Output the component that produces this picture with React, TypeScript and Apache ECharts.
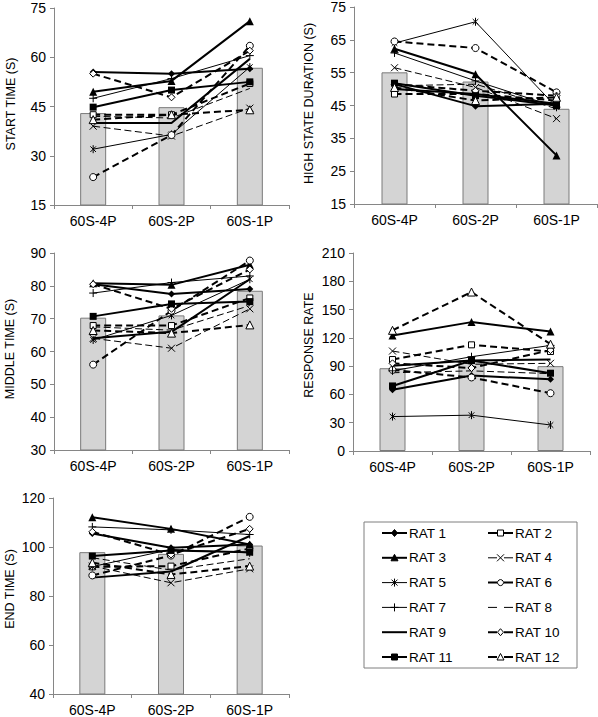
import React, { useEffect, useRef } from 'react';
import * as echarts from 'echarts';

const categories = ['60S-4P', '60S-2P', '60S-1P'];
const ratNames = ['RAT 1', 'RAT 2', 'RAT 3', 'RAT 4', 'RAT 5', 'RAT 6', 'RAT 7', 'RAT 8', 'RAT 9', 'RAT 10', 'RAT 11', 'RAT 12'];

// START TIME (S)
const startTimeMean = [43.0, 44.8, 56.8];
const startTimeRats = [
  [55.5, 55.0, 56.5],
  [42.5, 42.5, 52.0],
  [49.5, 52.8, 71.0],
  [39.0, 36.0, 44.5],
  [32.0, 36.5, 57.0],
  [23.5, 36.3, 63.5],
  [47.5, 53.5, 60.5],
  [42.0, 41.5, 50.5],
  [40.0, 40.0, 59.5],
  [55.0, 47.8, 62.0],
  [44.8, 50.0, 52.5],
  [41.0, 42.5, 44.0],
];

// HIGH STATE DURATION (S)
const highStateMean = [55.1, 52.3, 44.0];
const highStateRats = [
  [51.5, 44.8, 45.5],
  [48.5, 48.5, 46.5],
  [62.3, 54.5, 29.8],
  [56.5, 50.5, 41.0],
  [64.0, 70.5, 44.5],
  [64.5, 62.5, 49.0],
  [61.0, 52.5, 44.5],
  [51.0, 51.5, 44.0],
  [50.0, 48.5, 45.5],
  [51.5, 49.5, 48.0],
  [51.8, 48.0, 45.0],
  [50.5, 46.5, 47.5],
];

// MIDDLE TIME (S)
const middleTimeMean = [70.3, 71.0, 78.5];
const middleTimeRats = [
  [80.5, 77.5, 79.0],
  [67.9, 67.9, 76.3],
  [80.8, 80.3, 86.4],
  [64.0, 61.0, 73.0],
  [63.5, 71.0, 82.0],
  [56.0, 72.4, 87.7],
  [77.8, 81.0, 83.0],
  [67.5, 66.5, 74.0],
  [64.0, 66.0, 82.0],
  [80.5, 73.0, 85.0],
  [70.7, 74.5, 75.2],
  [66.4, 65.6, 68.1],
];

// RESPONSE RATE
const responseRateMean = [87.8, 96.0, 90.0];
const responseRateRats = [
  [65.0, 80.0, 76.0],
  [97.0, 112.6, 105.5],
  [122.5, 136.7, 126.8],
  [106.0, 92.0, 93.0],
  [36.5, 38.0, 27.6],
  [86.0, 78.0, 61.3],
  [85.0, 100.0, 112.0],
  [83.0, 85.0, 82.0],
  [90.5, 96.0, 97.0],
  [93.0, 88.0, 107.0],
  [69.0, 96.0, 82.5],
  [128.0, 168.6, 113.3],
];

// END TIME (S)
const endTimeMean = [97.9, 97.2, 100.6];
const endTimeRats = [
  [105.5, 99.7, 101.0],
  [91.9, 92.2, 99.4],
  [112.1, 107.4, 101.0],
  [92.2, 85.4, 91.1],
  [92.0, 99.0, 97.6],
  [88.4, 96.5, 112.3],
  [108.2, 107.0, 105.1],
  [95.6, 90.6, 95.2],
  [87.5, 90.0, 104.5],
  [106.2, 96.9, 107.4],
  [96.3, 98.6, 97.9],
  [93.6, 88.8, 92.2],
];

const panelTitles = ['START TIME (S)', 'HIGH STATE DURATION (S)', 'MIDDLE TIME (S)', 'RESPONSE RATE', 'END TIME (S)'];
const axisMin = [15, 15, 30, 0, 40];
const axisMax = [75, 75, 90, 210, 120];
const axisStep = [15, 10, 10, 30, 20];

const FONT = 'Liberation Sans, Arial, sans-serif';

const grids = [
  { left: 54, top: 8, width: 235, height: 197 },
  { left: 354, top: 6, width: 243, height: 198 },
  { left: 54, top: 253, width: 235, height: 197 },
  { left: 353, top: 253, width: 237, height: 198 },
  { left: 53, top: 498, width: 236, height: 197 },
];
// centres of the rotated axis titles
const titlePos = [
  [11, 104],
  [309, 103.5],
  [10, 349],
  [309, 345],
  [10, 589],
];

const X_SYM = 'path://M0,0L10,10M10,0L0,10';
const PLUS_SYM = 'path://M5,0L5,10M0,5L10,5';
const STAR_SYM = 'path://M1.5,1.5L8.5,8.5M8.5,1.5L1.5,8.5M5,0L5,10';

const DASH_THICK = [7, 4];
const DASH_THIN = [7, 3.5];

const ratStyles: any[] = [
  { w: 2, dash: 'solid', sym: 'diamond', size: 7, open: false, mk: 'diamond' },
  { w: 2, dash: DASH_THICK, sym: 'rect', size: 6, open: true, mk: 'rect' },
  { w: 2, dash: 'solid', sym: 'triangle', size: 8, open: false, mk: 'triangle' },
  { w: 1, dash: DASH_THIN, sym: X_SYM, size: 7, stroke: true, mk: 'x' },
  { w: 1, dash: 'solid', sym: STAR_SYM, size: 8, stroke: true, mk: 'star' },
  { w: 2, dash: DASH_THICK, sym: 'circle', size: 7, open: true, mk: 'circle' },
  { w: 1, dash: 'solid', sym: PLUS_SYM, size: 8, stroke: true, mk: 'plus' },
  { w: 1, dash: DASH_THIN, sym: 'none', size: 0, mk: 'none' },
  { w: 2, dash: 'solid', sym: 'none', size: 0, mk: 'none' },
  { w: 2, dash: DASH_THICK, sym: 'diamond', size: 7, open: true, mk: 'diamond' },
  { w: 2, dash: 'solid', sym: 'rect', size: 7, open: false, mk: 'rect' },
  { w: 2, dash: DASH_THICK, sym: 'triangle', size: 8, open: true, mk: 'triangle' },
];

const panelMeans = [startTimeMean, highStateMean, middleTimeMean, responseRateMean, endTimeMean];
const panelRats = [startTimeRats, highStateRats, middleTimeRats, responseRateRats, endTimeRats];

// legend box layout
const LEG_BOX = { x: 364, y: 522, width: 213, height: 146 };
const LEG_COL_X = [382, 488];
const LEG_ROW_Y0 = 533;
const LEG_ROW_STEP = 24.8;
const LEG_LINE_LEN = 25;

function legendMarker(mk: string, open: boolean, cx: number, cy: number): any[] {
  const fill = open ? '#fff' : '#000';
  const st = { fill, stroke: '#000', lineWidth: 1 };
  const ln = (x1: number, y1: number, x2: number, y2: number) => ({
    type: 'line',
    shape: { x1, y1, x2, y2 },
    style: { stroke: '#000', lineWidth: 1 },
    z: 12,
  });
  switch (mk) {
    case 'diamond':
      return [{ type: 'polygon', shape: { points: [[cx, cy - 3.5], [cx + 3, cy], [cx, cy + 3.5], [cx - 3, cy]] }, style: st, z: 12 }];
    case 'rect':
      return [{ type: 'rect', shape: { x: cx - 3, y: cy - 3, width: 6, height: 6 }, style: st, z: 12 }];
    case 'triangle':
      return [{ type: 'polygon', shape: { points: [[cx, cy - 3.5], [cx + 3.5, cy + 3], [cx - 3.5, cy + 3]] }, style: st, z: 12 }];
    case 'circle':
      return [{ type: 'circle', shape: { cx, cy, r: 3 }, style: st, z: 12 }];
    case 'x':
      return [ln(cx - 3.5, cy - 3.5, cx + 3.5, cy + 3.5), ln(cx + 3.5, cy - 3.5, cx - 3.5, cy + 3.5)];
    case 'plus':
      return [ln(cx - 4, cy, cx + 4, cy), ln(cx, cy - 4, cx, cy + 4)];
    case 'star':
      return [
        ln(cx - 3, cy - 3, cx + 3, cy + 3),
        ln(cx + 3, cy - 3, cx - 3, cy + 3),
        ln(cx, cy - 4, cx, cy + 4),
      ];
    default:
      return [];
  }
}

function buildLegendGraphics(): any[] {
  const out: any[] = [
    {
      type: 'rect',
      shape: { ...LEG_BOX },
      style: { fill: '#fff', stroke: '#7f7f7f', lineWidth: 1 },
      silent: true,
      z: 10,
    },
  ];
  ratNames.forEach((name, k) => {
    const st = ratStyles[k];
    const x0 = LEG_COL_X[k % 2];
    const y = LEG_ROW_Y0 + Math.floor(k / 2) * LEG_ROW_STEP;
    const dashed = st.dash !== 'solid';
    out.push({
      type: 'line',
      shape: { x1: x0, y1: y, x2: x0 + LEG_LINE_LEN, y2: y },
      style: { stroke: '#000', lineWidth: st.w, lineDash: dashed ? [9, 7] : null },
      silent: true,
      z: 11,
    });
    legendMarker(st.mk, !!st.open, x0 + LEG_LINE_LEN / 2, y).forEach((m) => out.push({ ...m, silent: true }));
    out.push({
      type: 'text',
      x: x0 + LEG_LINE_LEN + 2,
      y,
      silent: true,
      z: 12,
      style: {
        text: name,
        fill: '#000',
        fontSize: 13.5,
        fontFamily: FONT,
        align: 'left',
        verticalAlign: 'middle',
      },
    });
  });
  return out;
}

function buildTitleGraphics(): any[] {
  return panelTitles.map((t, i) => ({
    type: 'text',
    x: titlePos[i][0],
    y: titlePos[i][1],
    rotation: Math.PI / 2,
    silent: true,
    z: 10,
    style: {
      text: t,
      fill: '#000',
      fontSize: 12.5,
      fontFamily: FONT,
      align: 'center',
      verticalAlign: 'middle',
    },
  }));
}

function buildOption() {
  const series: any[] = [];
  panelMeans.forEach((mean, i) => {
    series.push({
      type: 'bar',
      name: 'mean' + i,
      xAxisIndex: i,
      yAxisIndex: i,
      data: mean,
      barWidth: 26,
      silent: true,
      z: 1,
      itemStyle: { color: '#d4d4d4', borderColor: '#7a7a7a', borderWidth: 1 },
    });
    panelRats[i].forEach((vals, r) => {
      const st = ratStyles[r];
      let itemStyle: any;
      if (st.stroke) itemStyle = { color: '#000', borderColor: '#000', borderWidth: 1 };
      else if (st.open) itemStyle = { color: '#fff', borderColor: '#000', borderWidth: 1 };
      else itemStyle = { color: '#000', borderColor: '#000', borderWidth: 0 };
      series.push({
        type: 'line',
        name: ratNames[r],
        xAxisIndex: i,
        yAxisIndex: i,
        data: vals,
        z: 3,
        symbol: st.sym,
        symbolSize: st.size,
        symbolKeepAspect: true,
        showSymbol: st.sym !== 'none',
        color: '#000',
        lineStyle: { color: '#000', width: st.w, type: st.dash },
        itemStyle,
        emphasis: { disabled: true },
      });
    });
  });

  const axisLineStyle = { color: '#868686', width: 1 };

  return {
    animation: false,
    backgroundColor: '#fff',
    textStyle: { fontFamily: FONT },
    grid: grids.map((g) => ({ ...g, containLabel: false })),
    xAxis: grids.map((_, i) => ({
      type: 'category',
      gridIndex: i,
      data: categories,
      boundaryGap: true,
      axisLine: { show: true, lineStyle: axisLineStyle },
      axisTick: { show: true, alignWithLabel: false, length: 4, lineStyle: axisLineStyle },
      axisLabel: { color: '#000', fontSize: 14, fontFamily: FONT, margin: 9, interval: 0 },
      splitLine: { show: false },
    })),
    yAxis: grids.map((_, i) => ({
      type: 'value',
      gridIndex: i,
      min: axisMin[i],
      max: axisMax[i],
      interval: axisStep[i],
      axisLine: { show: true, lineStyle: axisLineStyle },
      axisTick: { show: true, inside: false, length: 4, lineStyle: axisLineStyle },
      axisLabel: { color: '#000', fontSize: 14, fontFamily: FONT, margin: 8 },
      splitLine: { show: false },
    })),
    graphic: [...buildTitleGraphics(), ...buildLegendGraphics()],
    series,
  };
}

export default function App() {
  const ref = useRef<HTMLDivElement>(null);
  useEffect(() => {
    if (!ref.current) return;
    const chart = echarts.init(ref.current, null, { renderer: 'svg' });
    chart.setOption(buildOption() as any);
    return () => chart.dispose();
  }, []);
  return (
    <div
      ref={ref}
      style={{ position: 'absolute', left: 0, top: 0, width: 598, height: 717, background: '#fff' }}
    />
  );
}
